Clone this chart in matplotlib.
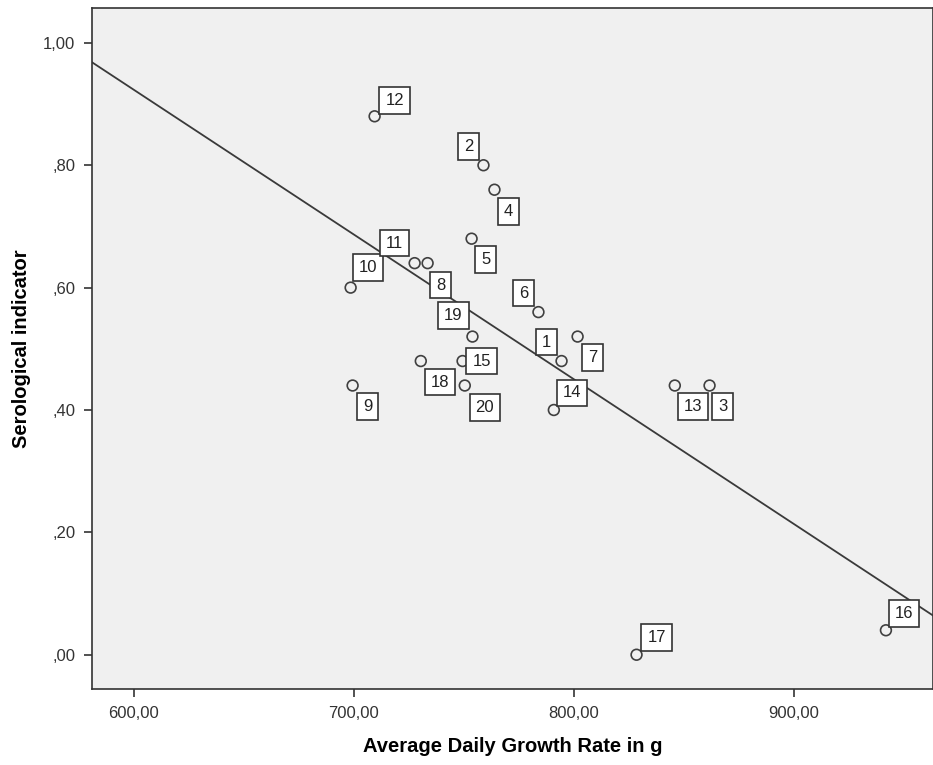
import numpy as np
import matplotlib
matplotlib.use('Agg')
from matplotlib import pyplot as plt
from matplotlib.ticker import FuncFormatter

# case numbers, growth rate (g) and serological indicator
case_ids = list(range(1, 21))
growth = [794.5, 759, 861.8, 764, 753.6, 784, 801.8, 733.6, 699.5, 698.6,
          727.7, 709.5, 846, 791, 749.5, 942, 828.6, 730.5, 754, 750.5]
sero = [0.48, 0.80, 0.44, 0.76, 0.68, 0.56, 0.52, 0.64, 0.44, 0.60,
        0.64, 0.88, 0.44, 0.40, 0.48, 0.04, 0.00, 0.48, 0.52, 0.44]
# label offsets (pixels) as placed on the original chart
label_dx = [-15, -15, 13, 14, 14, -15, 15, 13, 15, 17, -20, 20, 18, 18, 19, 18, 20, 19, -19, 20]
label_dy = [19, 19, -21, -22, -21, 19, -21, -22, -21, 20, 20, 16, -21, 17, 0, 17, 17, -21, 21, -22]

plt.rcParams['font.family'] = ['Liberation Sans', 'DejaVu Sans']

fig = plt.figure(figsize=(9.33, 7.65), dpi=100)
ax = fig.add_axes([92/933, 1-689/765, (933-92)/933, (689-8)/765])
ax.set_facecolor('#f0f0f0')

xlim = (581.0, 963.4)
ax.set_xlim(*xlim)
ax.set_ylim(-0.056, 1.057)

# regression line
k, b = np.polyfit(growth, sero, 1)
xs = np.array(xlim)
ax.plot(xs, k*xs + b, color='#3a3a3a', lw=1.3, zorder=2)

ax.scatter(growth, sero, s=60, facecolors='none', edgecolors='#404040', linewidths=1.2, zorder=3)

for i, x, y, dx, dy in zip(case_ids, growth, sero, label_dx, label_dy):
    ax.annotate(str(i), (x, y), xytext=(dx, dy), textcoords='offset pixels',
                ha='center', va='center', fontsize=12, color='#222222',
                bbox=dict(boxstyle='square,pad=0.35', fc='white', ec='#333333', lw=1.2),
                zorder=4)

ax.set_xticks([600, 700, 800, 900])
ax.set_yticks([0, 0.2, 0.4, 0.6, 0.8, 1.0])
ax.xaxis.set_major_formatter(FuncFormatter(lambda v, p: f'{v:.2f}'.replace('.', ',')))
ax.yaxis.set_major_formatter(FuncFormatter(lambda v, p: f'{v:.2f}'.replace('.', ',').lstrip('0') if v < 1 else f'{v:.2f}'.replace('.', ',')))
ax.tick_params(direction='out', length=6, width=1.2, labelsize=12, colors='#333333', pad=6)
for s in ax.spines.values():
    s.set_color('#333333')
    s.set_linewidth(1.2)

ax.set_xlabel('Average Daily Growth Rate in g', fontsize=14.5, fontweight='bold', labelpad=12)
ax.set_ylabel('Serological indicator', fontsize=14.5, fontweight='bold', labelpad=9)

fig.savefig('out.png', dpi=100)
